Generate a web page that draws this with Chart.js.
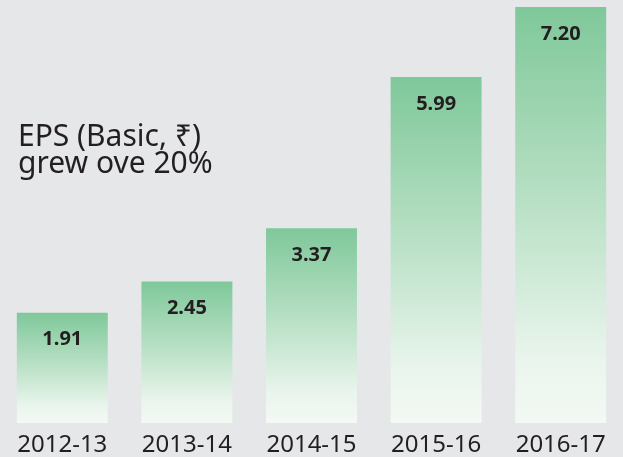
<!DOCTYPE html>
<html>
<head>
<meta charset="utf-8">
<script src="https://cdn.jsdelivr.net/npm/chart.js@4/dist/chart.umd.min.js"></script>
<style>
  html, body { margin: 0; padding: 0; background: #e6e7e9; }
  #wrap { width: 623px; height: 457px; }
</style>
</head>
<body>
<div id="wrap"><canvas id="eps"></canvas></div>
<script>
const years = ["2012-13", "2013-14", "2014-15", "2015-16", "2016-17"];
const epsValues = [1.91, 2.45, 3.37, 5.99, 7.2];
const titleLines = ["EPS (Basic, \u20B9)", "grew ove 20%"];

// each bar gets its own top-to-bottom fade
function barGradient(ctx) {
  const chart = ctx.chart;
  const { chartArea, scales } = chart;
  if (!chartArea || ctx.type !== "data") return "#8fcfa5";
  const top = scales.y.getPixelForValue(ctx.raw);
  const bottom = scales.y.getPixelForValue(0);
  const g = chart.ctx.createLinearGradient(0, top, 0, bottom);
  g.addColorStop(0, "#7fc89a");
  g.addColorStop(0.45, "#b6dfc3");
  g.addColorStop(0.85, "#eaf5ed");
  g.addColorStop(1, "#f3f9f4");
  return g;
}

const labelsPlugin = {
  id: "labels",
  afterDatasetsDraw(chart) {
    const ctx = chart.ctx;
    const meta = chart.getDatasetMeta(0);
    ctx.save();
    ctx.fillStyle = "#231f20";
    ctx.font = "bold 20px 'Noto Sans'";
    ctx.textAlign = "center";
    ctx.textBaseline = "middle";
    meta.data.forEach((bar, i) => {
      ctx.fillText(epsValues[i].toFixed(2), bar.x, bar.y + 27);
    });
    // headline text on the left
    ctx.textAlign = "left";
    ctx.textBaseline = "alphabetic";
    ctx.font = "30px 'Noto Sans'";
    ctx.fillText(titleLines[0], 18, 146);
    ctx.fillText(titleLines[1], 18, 173);
    ctx.restore();
  },
};

new Chart(document.getElementById("eps"), {
  type: "bar",
  data: {
    labels: years,
    datasets: [
      {
        data: epsValues,
        backgroundColor: barGradient,
        borderWidth: 0,
        categoryPercentage: 1,
        barPercentage: 0.73,
      },
    ],
  },
  options: {
    responsive: true,
    maintainAspectRatio: false,
    animation: false,
    layout: { padding: { top: 7, left: 0, right: 0, bottom: -10 } },
    plugins: {
      legend: { display: false },
      tooltip: { enabled: false },
    },
    scales: {
      x: {
        grid: { display: false, drawTicks: false },
        border: { display: false },
        ticks: {
          color: "#231f20",
          padding: 10,
          font: { family: "'Noto Sans'", size: 24, lineHeight: 1 },
        },
      },
      y: {
        display: false,
        min: 0,
        max: 7.2,
      },
    },
  },
  plugins: [labelsPlugin],
});
</script>
</body>
</html>
